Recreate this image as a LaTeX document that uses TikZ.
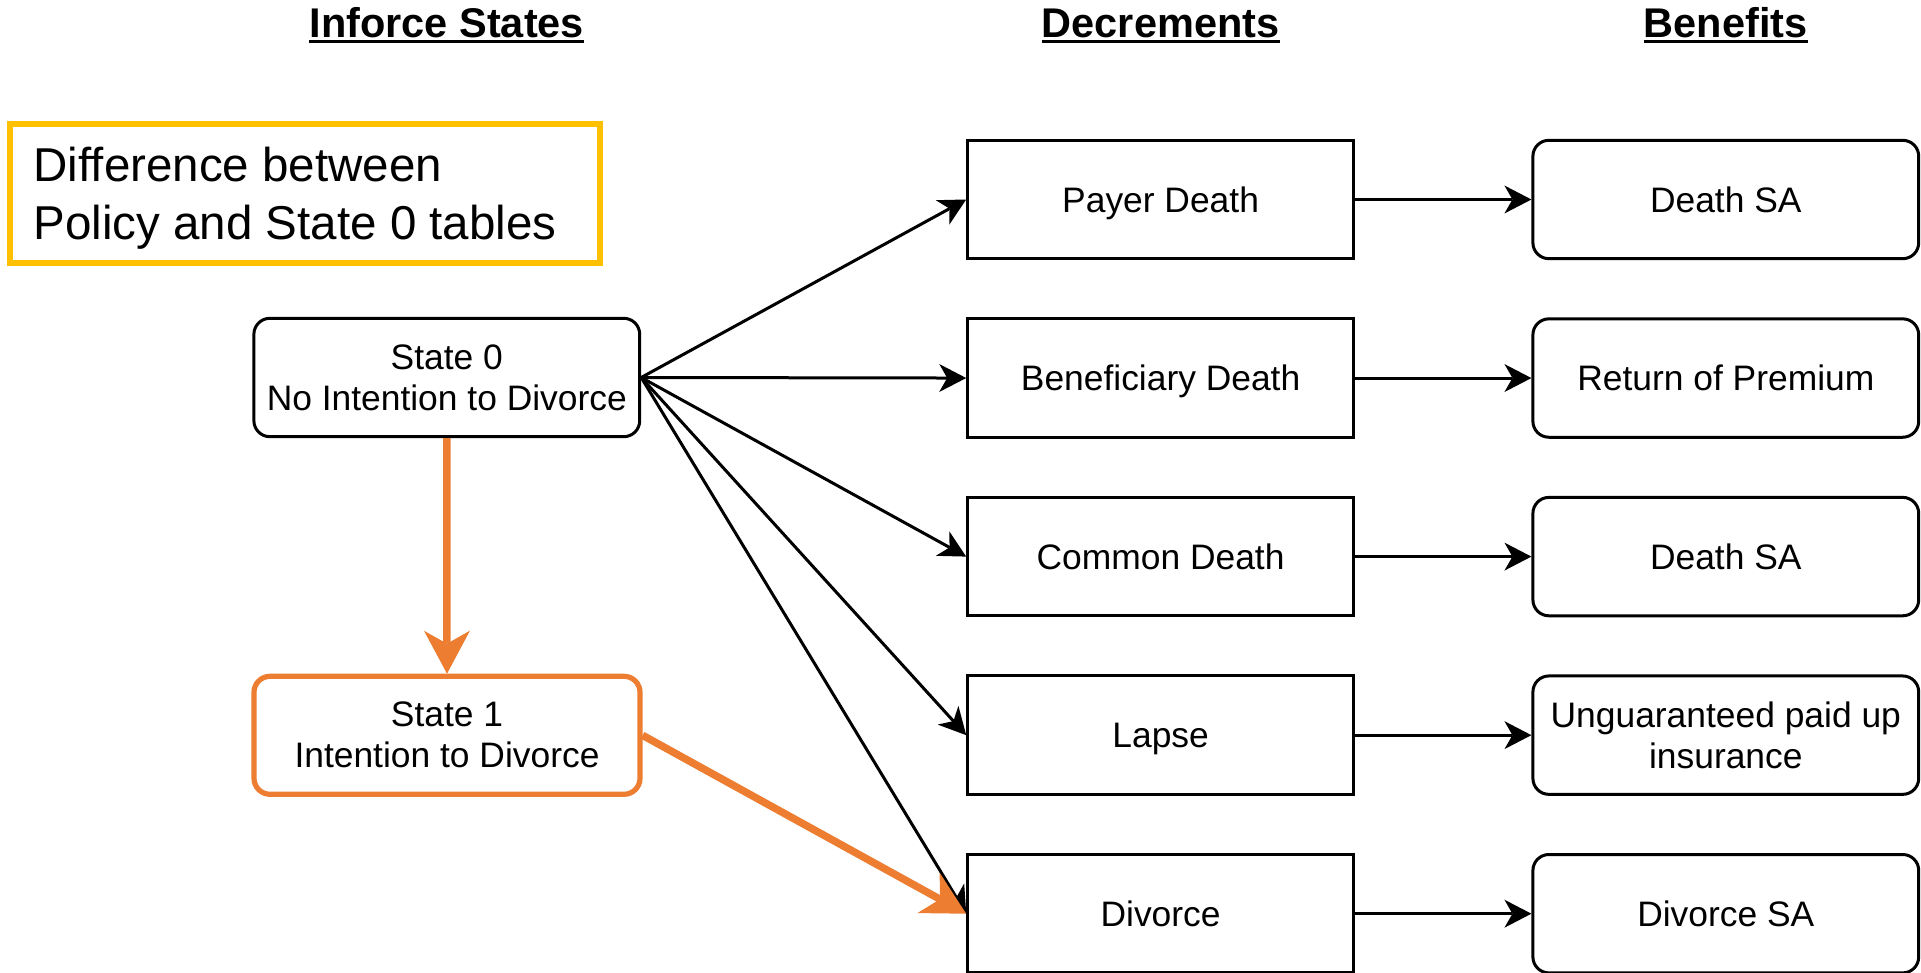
\documentclass[tikz,border=0pt]{standalone}
\usepackage{fontspec}
\setmainfont{Liberation Sans}
\usetikzlibrary{arrows.meta}
\definecolor{accent}{HTML}{ED7D31}
\definecolor{notegold}{HTML}{FFC000}

\begin{document}
\begin{tikzpicture}[x=1pt,y=-1pt,
  boxtext/.style={font=\fontsize{35.4}{41}\selectfont, align=center, inner sep=0pt},
  dbox/.style={boxtext, draw, line width=3pt, minimum width=385.8pt, minimum height=118.4pt},
  rbox/.style={dbox, rounded corners=16pt},
  oneline/.style={text height=25.4pt, text depth=0pt},
  coltitle/.style={font=\fontsize{41.5}{48}\selectfont\bfseries, inner sep=0pt, anchor=base},
  ruleline/.style={line width=3.3pt},
  linkarrow/.style={line width=3pt, -{Stealth[length=27pt,width=28pt,inset=8pt,line width=0pt]}},
  hotarrow/.style={color=accent, line width=7.5pt, -{Stealth[length=43pt,width=46pt,inset=13pt,line width=0pt]}},
]
\useasboundingbox (0,0) rectangle (1921,973);

% column headings
\node[coltitle] (t1) at (446.8,37.5) {Inforce States};
\node[coltitle] (t2) at (1160.6,37.5) {Decrements};
\node[coltitle] (t3) at (1725.8,37.5) {Benefits};
\foreach \t in {t1,t2,t3}
  \draw[ruleline] ([yshift=-4pt]\t.base west) -- ([yshift=-4pt]\t.base east);

% note
\node[draw=notegold, line width=5.2pt, minimum width=590pt, minimum height=139pt, inner sep=0pt] (note) at (305,193.5) {};
\node[font=\fontsize{47.5}{57.7}\selectfont, align=left, inner sep=0pt, anchor=west] (notetext) at (33.5,198.2)
  {Difference between\\Policy and State 0 tables};

% inforce states
\node[rbox] (s0) at (446.8,377.5) {State 0\\No Intention to Divorce};
\node[rbox, draw=accent, line width=5.2pt, minimum width=386pt, minimum height=118pt] (s1) at (447,735.3)
  {State 1\\Intention to Divorce};

% decrements
\node[dbox, oneline] (d1) at (1160.6,199.5) {Payer Death};
\node[dbox, oneline] (d2) at (1160.6,378.05) {Beneficiary Death};
\node[dbox, oneline] (d3) at (1160.6,556.6) {Common Death};
\node[dbox, oneline] (d4) at (1160.6,735.15) {Lapse};
\node[dbox, oneline] (d5) at (1160.6,913.7) {Divorce};

% benefits
\node[rbox, oneline] (b1) at (1725.8,199.5) {Death SA};
\node[rbox, oneline] (b2) at (1725.8,378.05) {Return of Premium};
\node[rbox, oneline] (b3) at (1725.8,556.6) {Death SA};
\node[rbox] (b4) at (1725.8,735.15) {Unguaranteed paid up\\insurance};
\node[rbox, oneline] (b5) at (1725.8,913.7) {Divorce SA};

% transitions out of State 0
\foreach \d in {d1,d2,d3,d4,d5}
  \draw[linkarrow] (s0.east) -- (\d.west);

% decrement to benefit
\foreach \i in {1,...,5}
  \draw[linkarrow] (d\i) -- (b\i);

% State 1 paths
\draw[hotarrow] (s0.south) -- (s1.north);
\draw[hotarrow] (s1.east) -- (d5.west);
\end{tikzpicture}
\end{document}
